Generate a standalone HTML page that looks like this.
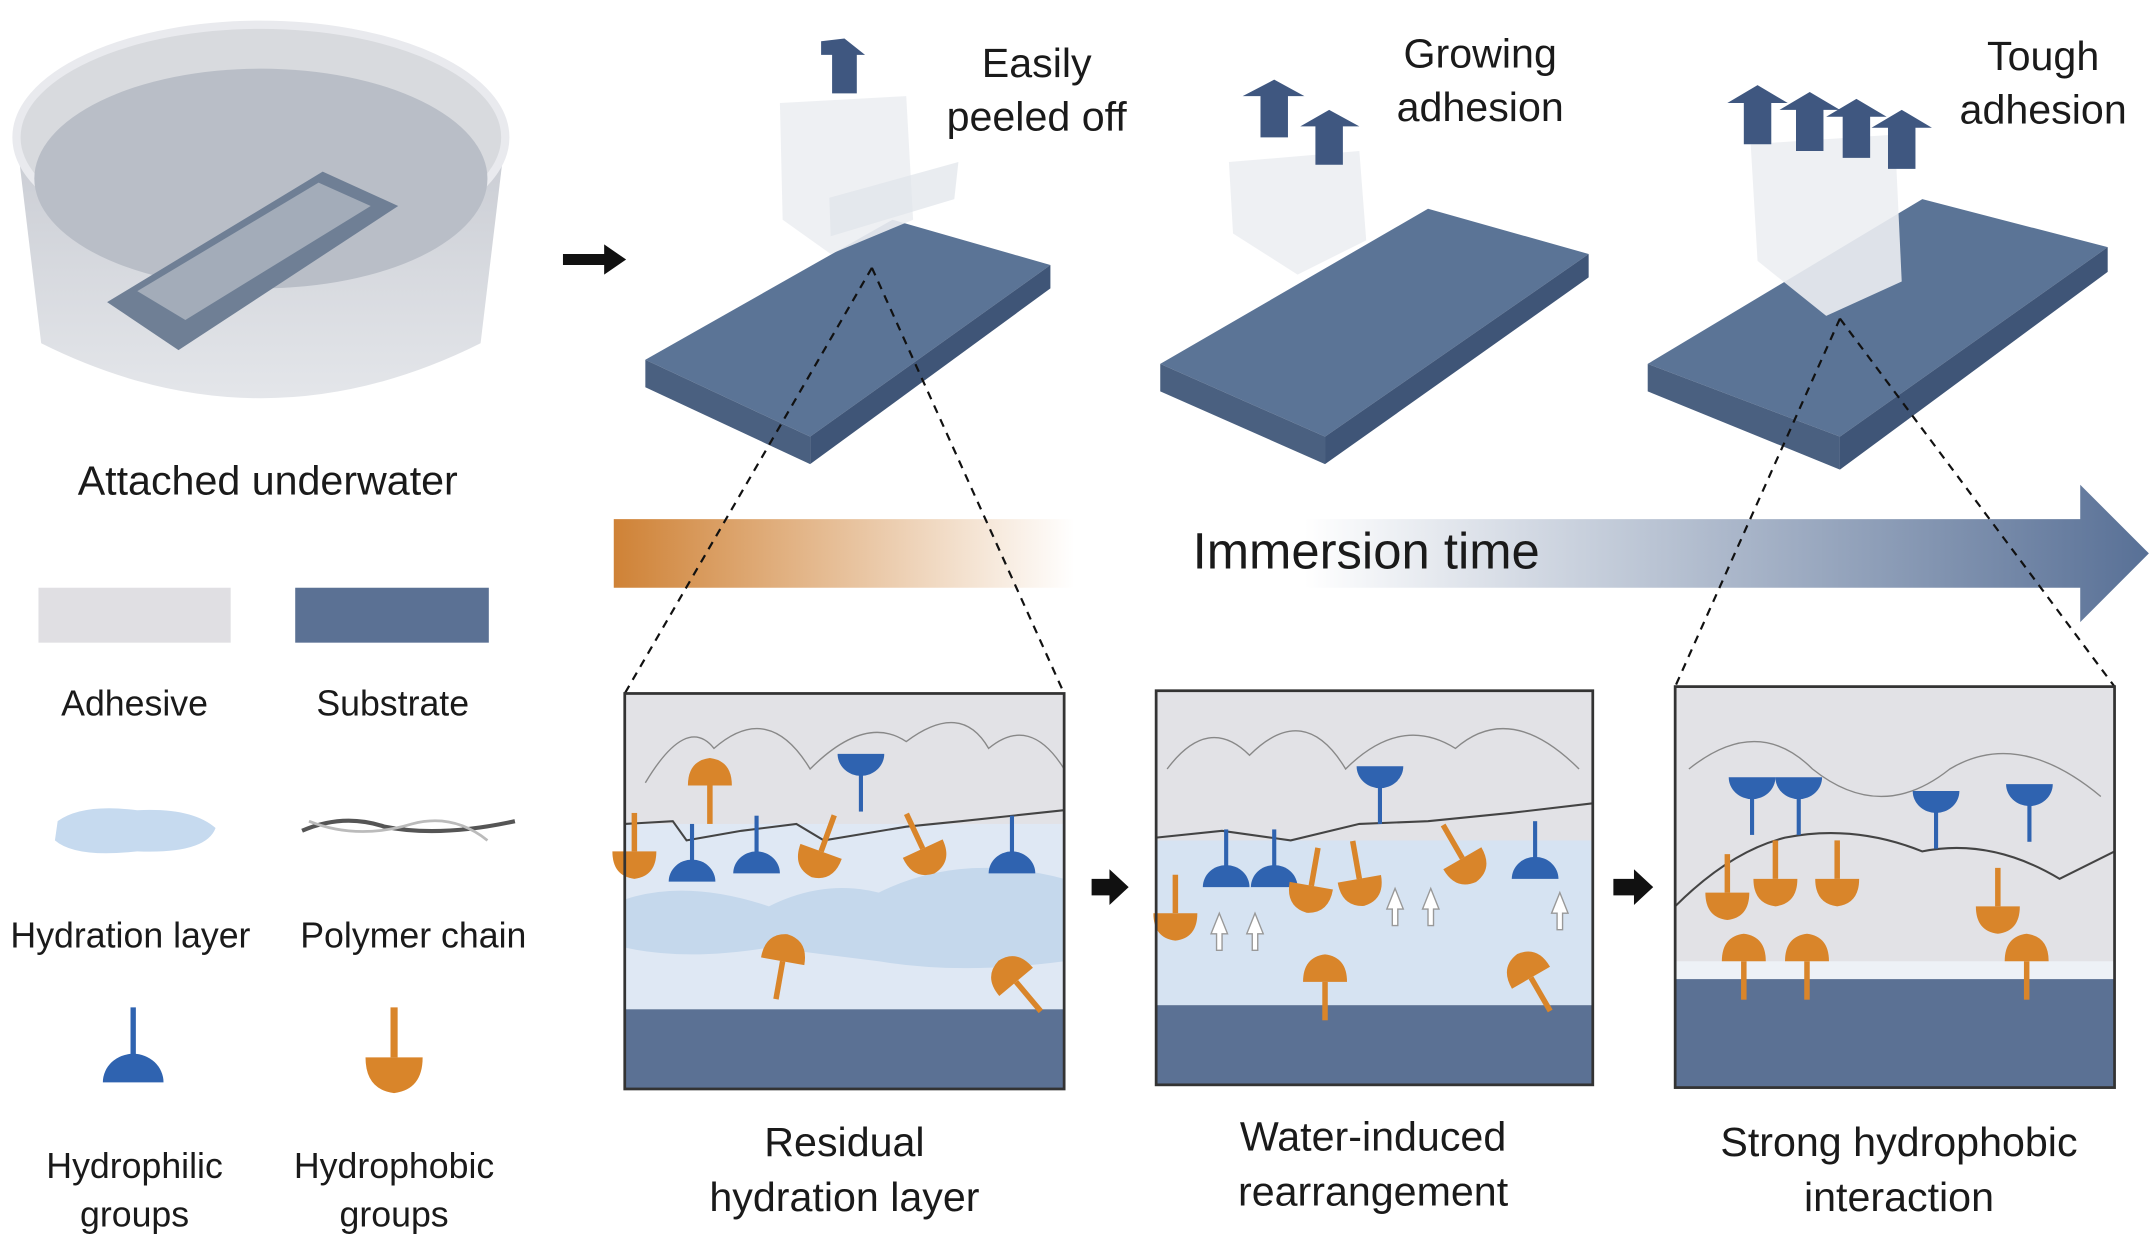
<!DOCTYPE html>
<html><head><meta charset="utf-8"><style>
html,body{margin:0;padding:0;background:#fff;width:2153px;height:1251px;overflow:hidden}
svg{display:block}
text{font-family:"Liberation Sans",sans-serif;fill:#1a1a1a}
</style></head><body>
<svg width="2153" height="1251" viewBox="0 0 1568 911" preserveAspectRatio="none" xmlns="http://www.w3.org/2000/svg">
<defs>
<linearGradient id="arr" x1="447" y1="0" x2="1565" y2="0" gradientUnits="userSpaceOnUse">
<stop offset="0" stop-color="#cf8236"/><stop offset="0.3" stop-color="#ffffff"/><stop offset="0.45" stop-color="#ffffff"/><stop offset="1" stop-color="#587096"/>
</linearGradient>
<linearGradient id="bowl" x1="0" y1="0" x2="0" y2="1"><stop offset="0" stop-color="#c9ccd3"/><stop offset="1" stop-color="#e4e6ea"/></linearGradient>
<g id="hp"><line x1="0" y1="-28" x2="0" y2="0" stroke="#2f63b0" stroke-width="3"/><path d="M-17,14 A17,16 0 0 1 17,14 Z" fill="#2f63b0"/></g>
<g id="ho"><line x1="0" y1="-28" x2="0" y2="0" stroke="#d9852a" stroke-width="4"/><path d="M-16,0 L16,0 Q16,18 0,20 Q-16,18 -16,0Z" fill="#d9852a"/></g>
<g id="ha"><line x1="0" y1="-28" x2="0" y2="0" stroke="#d9852a" stroke-width="4"/><path d="M-16,0 L16,0 Q18,22 0,24 Q-18,22 -16,0Z" fill="#d9852a" transform="rotate(180 0 10)"/></g>
</defs>

<!-- bowl -->
<path d="M12,100 L30,250 Q190,330 350,250 L368,100 Z" fill="url(#bowl)"/>
<ellipse cx="190" cy="100" rx="178" ry="82" fill="#d8dade" stroke="#e9eaee" stroke-width="6"/>
<ellipse cx="190" cy="130" rx="165" ry="80" fill="#b9bec7"/>
<polygon points="78,220 235,125 290,150 130,255" fill="#6f7f95"/>
<polygon points="100,212 232,133 270,150 135,233" fill="#a3acb9"/>
<text x="195" y="360" font-size="30" text-anchor="middle">Attached underwater</text>

<!-- legend -->
<rect x="28" y="428" width="140" height="40" fill="#e0dfe3"/>
<rect x="215" y="428" width="141" height="40" fill="#5b7194"/>
<text x="98" y="521" font-size="26" text-anchor="middle">Adhesive</text>
<text x="286" y="521" font-size="26" text-anchor="middle">Substrate</text>
<path d="M42,598 Q60,585 100,590 Q140,588 157,603 Q150,622 100,620 Q55,625 40,612Z" fill="#c6daef"/>
<path d="M220,605 Q250,592 280,602 Q320,610 375,598" fill="none" stroke="#555" stroke-width="3"/>
<path d="M225,598 Q260,612 300,600 Q330,592 355,612" fill="none" stroke="#bbb" stroke-width="2"/>
<text x="95" y="690" font-size="26" text-anchor="middle">Hydration layer</text>
<text x="301" y="690" font-size="26" text-anchor="middle">Polymer chain</text>
<g transform="translate(97,770) scale(1.3)"><use href="#hp"/></g>
<g transform="translate(287,770) scale(1.3)"><use href="#ho"/></g>
<text x="98" y="858" font-size="26" text-anchor="middle">Hydrophilic</text>
<text x="98" y="893" font-size="26" text-anchor="middle">groups</text>
<text x="287" y="858" font-size="26" text-anchor="middle">Hydrophobic</text>
<text x="287" y="893" font-size="26" text-anchor="middle">groups</text>

<!-- arrow -->
<polygon points="410,185 440,185 440,178 456,189 440,200 440,193 410,193" fill="#111"/>

<!-- slabs -->
<g>
<polygon points="470,262 650,160 765,193 590,318" fill="#5b7496"/>
<polygon points="470,262 590,318 590,338 470,282" fill="#4a6080"/>
<polygon points="590,318 765,193 765,210 590,338" fill="#3f5577"/>
<polygon points="568,75 660,70 665,160 605,185 570,160" fill="#eceef2" opacity="0.9"/>
<polygon points="605,172 695,145 698,118 604,144" fill="#e0e4ea" opacity="0.7"/>
<polygon points="598,30 615,28 630,40 624,40 624,68 606,68 606,40 598,40" fill="#3f5780"/>

<polygon points="845,265 1040,152 1157,185 965,318" fill="#5b7496"/>
<polygon points="845,265 965,318 965,338 845,285" fill="#4a6080"/>
<polygon points="965,318 1157,185 1157,202 965,338" fill="#3f5577"/>
<polygon points="895,118 990,110 995,175 945,200 898,170" fill="#eceef2" opacity="0.9"/>
<polygon points="905,70 928,58 950,70 938,70 938,100 918,100 918,70" fill="#3f5780"/>
<polygon points="947,92 968,80 990,92 978,92 978,120 958,120 958,92" fill="#3f5780"/>

<polygon points="1200,265 1400,145 1535,180 1340,318" fill="#5b7496"/>
<polygon points="1200,265 1340,318 1340,342 1200,285" fill="#4a6080"/>
<polygon points="1340,318 1535,180 1535,198 1340,342" fill="#3f5577"/>
<polygon points="1275,105 1380,98 1385,205 1330,230 1280,190" fill="#eceef2" opacity="0.9"/>
<g fill="#3f5780">
<polygon points="1258,75 1280,62 1302,75 1290,75 1290,105 1270,105 1270,75"/>
<polygon points="1296,80 1318,67 1340,80 1328,80 1328,110 1308,110 1308,80"/>
<polygon points="1330,85 1352,72 1374,85 1362,85 1362,115 1342,115 1342,85"/>
<polygon points="1363,93 1385,80 1407,93 1395,93 1395,123 1375,123 1375,93"/>
</g>
</g>
<text x="755" y="56" font-size="30" text-anchor="middle">Easily</text>
<text x="755" y="95" font-size="30" text-anchor="middle">peeled off</text>
<text x="1078" y="49" font-size="30" text-anchor="middle">Growing</text>
<text x="1078" y="88" font-size="30" text-anchor="middle">adhesion</text>
<text x="1488" y="51" font-size="30" text-anchor="middle">Tough</text>
<text x="1488" y="90" font-size="30" text-anchor="middle">adhesion</text>

<!-- immersion arrow -->
<polygon points="447,378 1515,378 1515,353 1565,403 1515,453 1515,428 447,428" fill="url(#arr)"/>
<text x="995" y="414" font-size="37" text-anchor="middle">Immersion time</text>

<!-- dashed -->
<g stroke="#111" stroke-width="1.6" stroke-dasharray="6,5" fill="none">
<line x1="635" y1="195" x2="455" y2="505"/><line x1="635" y1="195" x2="775" y2="505"/>
<line x1="1340" y1="232" x2="1220" y2="500"/><line x1="1340" y1="232" x2="1540" y2="500"/>
</g>

<!-- panel 1 -->
<rect x="455" y="505" width="320" height="288" fill="#e2e2e6"/>
<rect x="455" y="600" width="320" height="135" fill="#dfe8f4"/>
<path d="M455,655 Q500,640 560,660 Q600,640 640,650 Q700,620 775,640 L775,700 Q700,710 640,700 L560,690 Q500,700 455,690Z" fill="#c5d8ec"/>
<rect x="455" y="735" width="320" height="58" fill="#5b7194"/>
<path d="M455,600 L490,598 L500,612 L540,605 L580,600 L600,612 L660,602 L700,598 L775,590" fill="none" stroke="#444" stroke-width="1.5"/>
<path d="M470,570 Q500,520 520,545 Q560,510 590,560 Q630,520 660,540 Q700,510 720,545 Q750,520 775,560" fill="none" stroke="#888" stroke-width="1"/>
<g transform="translate(517,572) rotate(180)"><use href="#ho"/></g>
<g transform="translate(627,563) rotate(180)"><use href="#hp"/></g>
<g transform="translate(504,628)"><use href="#hp"/></g>
<g transform="translate(551,622)"><use href="#hp"/></g>
<g transform="translate(737,622)"><use href="#hp"/></g>
<g transform="translate(598,620) rotate(20)"><use href="#ho"/></g>
<g transform="translate(672,618) rotate(-25)"><use href="#ho"/></g>
<g transform="translate(462,620)"><use href="#ho"/></g>
<g transform="translate(570,700) rotate(-170)"><use href="#ho"/></g>
<g transform="translate(740,715) rotate(140)"><use href="#ho"/></g>
<rect x="455" y="505" width="320" height="288" fill="none" stroke="#333" stroke-width="2"/>

<polygon points="795,640 808,640 808,633 822,646 808,659 808,652 795,652" fill="#111"/>

<!-- panel 2 -->
<rect x="842" y="503" width="318" height="287" fill="#e2e2e6"/>
<rect x="842" y="612" width="318" height="120" fill="#d6e3f2"/>
<rect x="842" y="732" width="318" height="58" fill="#5b7194"/>
<path d="M842,610 L890,605 L940,612 L990,600 L1040,598 L1100,592 L1160,585" fill="none" stroke="#444" stroke-width="1.5"/>
<path d="M850,560 Q880,520 910,550 Q950,510 980,560 Q1020,520 1060,545 Q1100,510 1150,560" fill="none" stroke="#888" stroke-width="1"/>
<g transform="translate(1005,572) rotate(180)"><use href="#hp"/></g>
<g transform="translate(893,632)"><use href="#hp"/></g>
<g transform="translate(928,632)"><use href="#hp"/></g>
<g transform="translate(1118,626)"><use href="#hp"/></g>
<g transform="translate(955,645) rotate(10)"><use href="#ho"/></g>
<g transform="translate(990,640) rotate(-10)"><use href="#ho"/></g>
<g transform="translate(1065,625) rotate(-30)"><use href="#ho"/></g>
<g transform="translate(856,665)"><use href="#ho"/></g>
<g transform="translate(965,715) rotate(180)"><use href="#ho"/></g>
<g transform="translate(1115,712) rotate(150)"><use href="#ho"/></g>
<g fill="#fff" stroke="#999" stroke-width="1">
<polygon points="882,680 888,665 894,680 890,680 890,692 886,692 886,680"/>
<polygon points="908,680 914,665 920,680 916,680 916,692 912,692 912,680"/>
<polygon points="1010,662 1016,647 1022,662 1018,662 1018,674 1014,674 1014,662"/>
<polygon points="1036,662 1042,647 1048,662 1044,662 1044,674 1040,674 1040,662"/>
<polygon points="1130,665 1136,650 1142,665 1138,665 1138,677 1134,677 1134,665"/>
</g>
<rect x="842" y="503" width="318" height="287" fill="none" stroke="#333" stroke-width="2"/>

<polygon points="1175,640 1190,640 1190,633 1204,646 1190,659 1190,652 1175,652" fill="#111"/>

<!-- panel 3 -->
<rect x="1220" y="500" width="320" height="292" fill="#e2e2e6"/>
<rect x="1220" y="700" width="320" height="14" fill="#edf1f6"/>
<rect x="1220" y="713" width="320" height="79" fill="#5b7194"/>
<path d="M1220,660 Q1260,620 1300,610 Q1350,600 1400,620 Q1450,610 1500,640 L1540,620" fill="none" stroke="#444" stroke-width="1.5"/>
<path d="M1230,560 Q1280,520 1320,560 Q1370,600 1420,560 Q1470,530 1530,580" fill="none" stroke="#888" stroke-width="1"/>
<g transform="translate(1276,580) rotate(180)"><use href="#hp"/></g>
<g transform="translate(1310,580) rotate(180)"><use href="#hp"/></g>
<g transform="translate(1410,590) rotate(180)"><use href="#hp"/></g>
<g transform="translate(1478,585) rotate(180)"><use href="#hp"/></g>
<g transform="translate(1258,650)"><use href="#ho"/></g>
<g transform="translate(1293,640)"><use href="#ho"/></g>
<g transform="translate(1338,640)"><use href="#ho"/></g>
<g transform="translate(1455,660)"><use href="#ho"/></g>
<g transform="translate(1270,700) rotate(180)"><use href="#ho"/></g>
<g transform="translate(1316,700) rotate(180)"><use href="#ho"/></g>
<g transform="translate(1476,700) rotate(180)"><use href="#ho"/></g>
<rect x="1220" y="500" width="320" height="292" fill="none" stroke="#333" stroke-width="2"/>

<text x="615" y="842" font-size="30" text-anchor="middle">Residual</text>
<text x="615" y="882" font-size="30" text-anchor="middle">hydration layer</text>
<text x="1000" y="838" font-size="30" text-anchor="middle">Water-induced</text>
<text x="1000" y="878" font-size="30" text-anchor="middle">rearrangement</text>
<text x="1383" y="842" font-size="30" text-anchor="middle">Strong hydrophobic</text>
<text x="1383" y="882" font-size="30" text-anchor="middle">interaction</text>
</svg>
</body></html>
